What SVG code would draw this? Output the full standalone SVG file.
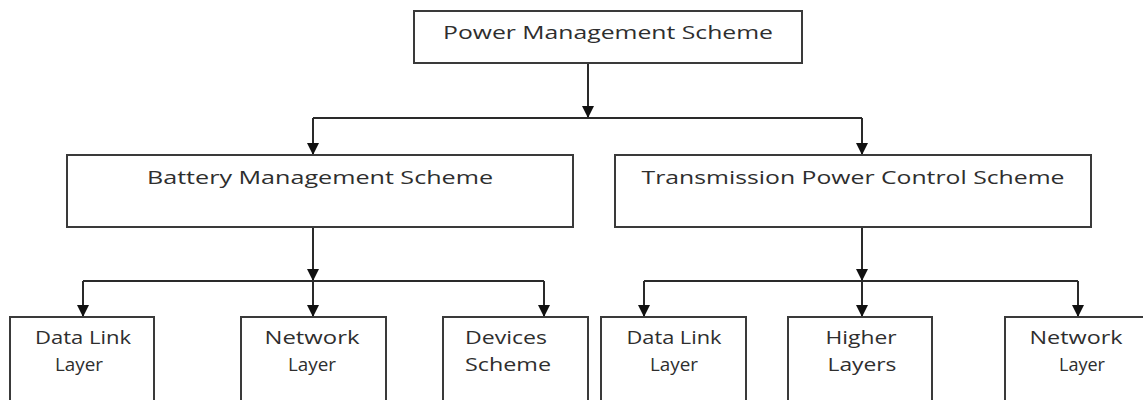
<svg xmlns="http://www.w3.org/2000/svg" width="1143" height="400" viewBox="0 0 1143 400">
<style>
.box{fill:#fff;stroke:#3a3a3a;stroke-width:2}
.t{font-family:"Open Sans","Liberation Sans",sans-serif;font-size:18px;font-weight:500;fill:#2e2e2e;text-anchor:middle}
.c{fill:none;stroke:#2a2a2a;stroke-width:2}
</style>
<defs>
<marker id="ah" viewBox="0 0 12 12" refX="12" refY="6" markerWidth="12" markerHeight="12" markerUnits="userSpaceOnUse" orient="auto">
<path d="M0,0 L12,6 L0,12 z" fill="#111"/>
</marker>
</defs>
<rect width="1143" height="400" fill="#fff"/>
<g id="connectors">
<path class="c" d="M588,63 V118" marker-end="url(#ah)"/>
<path class="c" d="M313,118 H862"/>
<path class="c" d="M313,118 V155" marker-end="url(#ah)"/>
<path class="c" d="M862,118 V155" marker-end="url(#ah)"/>
<path class="c" d="M313,227 V281" marker-end="url(#ah)"/>
<path class="c" d="M83,281 H544"/>
<path class="c" d="M83,281 V317" marker-end="url(#ah)"/>
<path class="c" d="M313,281 V317" marker-end="url(#ah)"/>
<path class="c" d="M544,281 V317" marker-end="url(#ah)"/>
<path class="c" d="M862,227 V281" marker-end="url(#ah)"/>
<path class="c" d="M644,281 H1078"/>
<path class="c" d="M644,281 V317" marker-end="url(#ah)"/>
<path class="c" d="M862,281 V317" marker-end="url(#ah)"/>
<path class="c" d="M1078,281 V317" marker-end="url(#ah)"/>
</g>
<g id="power">
<rect class="box" x="414" y="11" width="388" height="52"/>
<text class="t" x="608" y="39" textLength="330" lengthAdjust="spacingAndGlyphs">Power Management Scheme</text>
</g>
<g id="battery">
<rect class="box" x="67" y="155" width="506" height="72"/>
<text class="t" x="320" y="184" textLength="346" lengthAdjust="spacingAndGlyphs">Battery Management Scheme</text>
</g>
<g id="tpc">
<rect class="box" x="615" y="155" width="476" height="72"/>
<text class="t" x="853" y="184" textLength="423" lengthAdjust="spacingAndGlyphs">Transmission Power  Control Scheme</text>
</g>
<g id="dll1">
<rect class="box" x="10" y="317" width="144" height="100"/>
<text class="t" x="83" y="344" textLength="96" lengthAdjust="spacingAndGlyphs">Data Link</text>
<text class="t" x="79" y="371" textLength="48" lengthAdjust="spacingAndGlyphs">Layer</text>
</g>
<g id="net1">
<rect class="box" x="241" y="317" width="145" height="100"/>
<text class="t" x="312" y="344" textLength="95" lengthAdjust="spacingAndGlyphs">Network</text>
<text class="t" x="312" y="371" textLength="48" lengthAdjust="spacingAndGlyphs">Layer</text>
</g>
<g id="dev">
<rect class="box" x="443" y="317" width="145" height="100"/>
<text class="t" x="506" y="344" textLength="82" lengthAdjust="spacingAndGlyphs">Devices</text>
<text class="t" x="508" y="371" textLength="86" lengthAdjust="spacingAndGlyphs">Scheme</text>
</g>
<g id="dll2">
<rect class="box" x="601" y="317" width="145" height="100"/>
<text class="t" x="674" y="344" textLength="95" lengthAdjust="spacingAndGlyphs">Data Link</text>
<text class="t" x="674" y="371" textLength="48" lengthAdjust="spacingAndGlyphs">Layer</text>
</g>
<g id="higher">
<rect class="box" x="788" y="317" width="144" height="100"/>
<text class="t" x="861" y="344" textLength="71" lengthAdjust="spacingAndGlyphs">Higher</text>
<text class="t" x="862" y="371" textLength="69" lengthAdjust="spacingAndGlyphs">Layers</text>
</g>
<g id="net2">
<rect class="box" x="1005" y="317" width="145" height="100"/>
<text class="t" x="1076" y="344" textLength="93" lengthAdjust="spacingAndGlyphs">Network</text>
<text class="t" x="1082" y="371" textLength="46" lengthAdjust="spacingAndGlyphs">Layer</text>
</g>
</svg>
